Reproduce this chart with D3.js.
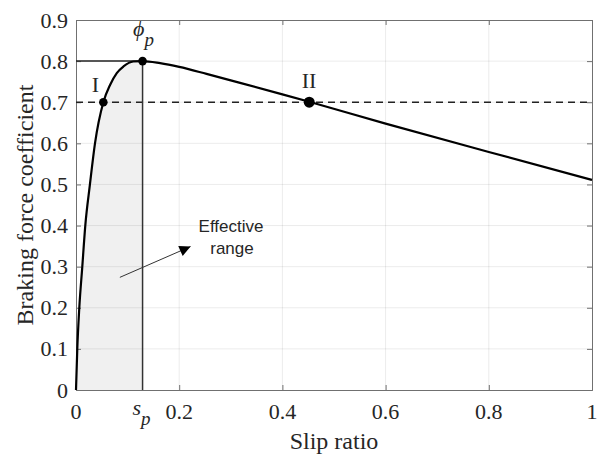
<!DOCTYPE html>
<html>
<head>
<meta charset="utf-8">
<script src="https://cdn.jsdelivr.net/npm/d3@7"></script>
<style>
  body { margin: 0; background: #fff; }
  text { font-family: "Liberation Serif", "Times New Roman", serif; fill: #262626; }
</style>
</head>
<body>
<svg id="chart" width="607" height="466"></svg>
<script>
// curve (slip ratio, braking force coefficient)
let slip = [0, 0.0025, 0.0064, 0.0122, 0.018, 0.027, 0.0368, 0.053, 0.066, 0.079, 0.092, 0.111, 0.129,
            0.163, 0.2, 0.253, 0.318, 0.4, 0.452, 0.6, 0.8, 1.0];
let mu = [0, 0.1, 0.2, 0.3, 0.4, 0.5, 0.6, 0.7, 0.742, 0.771, 0.787, 0.799, 0.8,
          0.795, 0.786, 0.769, 0.747, 0.719, 0.701, 0.648, 0.579, 0.511];

let sPeak = 0.129;      // s_p
let muPeak = 0.8;       // phi_p
let muLevel = 0.7;      // dashed level
let pointI = [0.053, 0.7];
let pointII = [0.452, 0.7];

let xTicks = [0, 0.2, 0.4, 0.6, 0.8, 1];
let xTickLabels = ["0", "0.2", "0.4", "0.6", "0.8", "1"];
let yTicks = [0, 0.1, 0.2, 0.3, 0.4, 0.5, 0.6, 0.7, 0.8, 0.9];
let yTickLabels = ["0", "0.1", "0.2", "0.3", "0.4", "0.5", "0.6", "0.7", "0.8", "0.9"];

// arrow of the "Effective range" note, in data units
let arrowFrom = [0.085, 0.274];
let arrowTo = [0.222, 0.349];

let svg = d3.select("#chart");
let plotLeft = 76, plotRight = 592, plotTop = 20, plotBottom = 390;

let xScale = d3.scaleLinear().domain([0, 1]).range([plotLeft, plotRight]);
let yScale = d3.scaleLinear().domain([0, 0.9]).range([plotBottom, plotTop]);

let points = slip.map((s, i) => ({s: s, mu: mu[i]}));

// shaded effective range under the curve
let area = d3.area()
    .x(d => xScale(d.s))
    .y0(yScale(0))
    .y1(d => yScale(d.mu))
    .curve(d3.curveMonotoneX);

svg.append("path")
    .datum(points.filter(d => d.s <= sPeak))
    .attr("d", area)
    .attr("fill", "#f0f0f0");

// grid
let grid = svg.append("g").attr("stroke", "rgba(0,0,0,0.08)").attr("stroke-width", 1);
grid.selectAll(".gx")
    .data(xTicks.filter(t => t > 0 && t < 1))
    .enter().append("line")
    .attr("x1", d => xScale(d)).attr("x2", d => xScale(d))
    .attr("y1", plotTop).attr("y2", plotBottom);
grid.selectAll(".gy")
    .data(yTicks.filter(t => t > 0 && t < 0.9))
    .enter().append("line")
    .attr("y1", d => yScale(d)).attr("y2", d => yScale(d))
    .attr("x1", plotLeft).attr("x2", plotRight);

// axes with inward ticks on all four sides
let xAxis = d3.axisBottom(xScale).tickValues(xTicks).tickSize(-5).tickFormat("");
let yAxis = d3.axisLeft(yScale).tickValues(yTicks).tickSize(-5).tickFormat("");
let xTop = d3.axisTop(xScale).tickValues(xTicks).tickSize(-5).tickFormat("");
let yRight = d3.axisRight(yScale).tickValues(yTicks).tickSize(-5).tickFormat("");

svg.append("g").attr("transform", "translate(0," + plotBottom + ")").call(xAxis);
svg.append("g").attr("transform", "translate(" + plotLeft + ",0)").call(yAxis);
svg.append("g").attr("transform", "translate(0," + plotTop + ")").call(xTop);
svg.append("g").attr("transform", "translate(" + plotRight + ",0)").call(yRight);
svg.selectAll(".domain, .tick line").attr("stroke", "#707070").attr("stroke-width", 1);

// tick labels
svg.selectAll(".xl")
    .data(xTicks)
    .enter().append("text")
    .attr("x", d => xScale(d))
    .attr("y", 419)
    .attr("text-anchor", "middle")
    .attr("font-size", 22)
    .text((d, i) => xTickLabels[i]);

svg.selectAll(".yl")
    .data(yTicks)
    .enter().append("text")
    .attr("x", 68)
    .attr("y", d => yScale(d) + 7.5)
    .attr("text-anchor", "end")
    .attr("font-size", 22)
    .text((d, i) => yTickLabels[i]);

// s_p tick label
let sp = svg.append("text")
    .attr("x", xScale(sPeak) - 1)
    .attr("y", 415)
    .attr("text-anchor", "middle")
    .attr("font-size", 22)
    .attr("font-style", "italic");
sp.append("tspan").text("s");
sp.append("tspan").attr("dy", 10).attr("font-size", 19).text("p");

// axis titles
svg.append("text")
    .attr("x", 334)
    .attr("y", 449)
    .attr("text-anchor", "middle")
    .attr("font-size", 24)
    .text("Slip ratio");

svg.append("text")
    .attr("transform", "translate(33," + ((plotTop + plotBottom) / 2) + ") rotate(-90)")
    .attr("text-anchor", "middle")
    .attr("font-size", 24)
    .text("Braking force coefficient");

// dashed level line
svg.append("line")
    .attr("x1", xScale(0)).attr("x2", xScale(1))
    .attr("y1", yScale(muLevel)).attr("y2", yScale(muLevel))
    .attr("stroke", "#222").attr("stroke-width", 1.6)
    .attr("stroke-dasharray", "7,5");

// peak guide lines
svg.append("line")
    .attr("x1", xScale(0)).attr("x2", xScale(sPeak))
    .attr("y1", yScale(muPeak)).attr("y2", yScale(muPeak))
    .attr("stroke", "#222").attr("stroke-width", 1.5);
svg.append("line")
    .attr("x1", xScale(sPeak)).attr("x2", xScale(sPeak))
    .attr("y1", yScale(0)).attr("y2", yScale(muPeak))
    .attr("stroke", "#333").attr("stroke-width", 1.5);

// the curve
let valueLine = d3.line()
    .x(d => xScale(d.s))
    .y(d => yScale(d.mu))
    .curve(d3.curveMonotoneX);

svg.append("path")
    .datum(points)
    .attr("d", valueLine)
    .attr("fill", "none")
    .attr("stroke", "#000")
    .attr("stroke-width", 2.2);

// marked points
svg.append("circle").attr("cx", xScale(sPeak)).attr("cy", yScale(muPeak)).attr("r", 4.3).attr("fill", "#000");
svg.append("circle").attr("cx", xScale(pointI[0])).attr("cy", yScale(pointI[1])).attr("r", 4.3).attr("fill", "#000");
svg.append("circle").attr("cx", xScale(pointII[0])).attr("cy", yScale(pointII[1])).attr("r", 5.5).attr("fill", "#000");

// point labels
svg.append("text").attr("x", 95.5).attr("y", 92).attr("text-anchor", "middle").attr("font-size", 22).text("I");
svg.append("text").attr("x", 309).attr("y", 88).attr("text-anchor", "middle").attr("font-size", 22).text("II");

let phi = svg.append("text")
    .attr("x", xScale(sPeak) + 1)
    .attr("y", 36)
    .attr("text-anchor", "middle")
    .attr("font-size", 22)
    .attr("font-style", "italic");
phi.append("tspan").text("\u03d5");
phi.append("tspan").attr("dy", 10).attr("font-size", 19).text("p");

// arrow and note
svg.append("defs").append("marker")
    .attr("id", "head")
    .attr("viewBox", "0 0 10 10")
    .attr("refX", 10).attr("refY", 5)
    .attr("markerWidth", 15).attr("markerHeight", 11)
    .attr("markerUnits", "userSpaceOnUse")
    .attr("orient", "auto")
    .append("path")
    .attr("d", "M0,0 L10,5 L0,10 Z")
    .attr("fill", "#000");

svg.append("line")
    .attr("x1", xScale(arrowFrom[0])).attr("y1", yScale(arrowFrom[1]))
    .attr("x2", xScale(arrowTo[0])).attr("y2", yScale(arrowTo[1]))
    .attr("stroke", "#333").attr("stroke-width", 1)
    .attr("marker-end", "url(#head)");

let note = svg.append("text")
    .attr("text-anchor", "middle")
    .attr("font-size", 17)
    .style("font-family", "'Liberation Sans', Arial, sans-serif");
note.append("tspan").attr("x", 231).attr("y", 232).text("Effective");
note.append("tspan").attr("x", 232).attr("y", 254).text("range");
</script>
</body>
</html>
